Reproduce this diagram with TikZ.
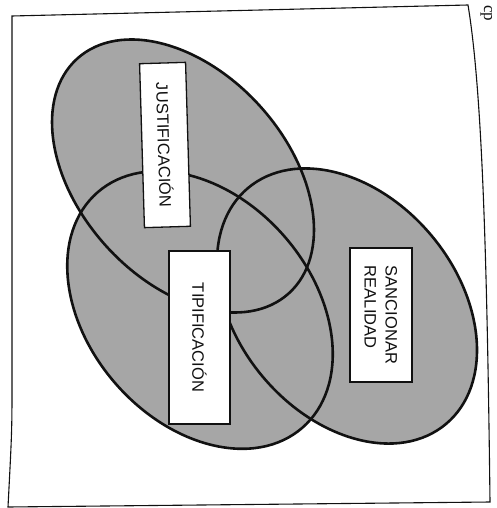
\documentclass[tikz,border=0pt]{standalone}
\usepackage{fontspec}
\setmainfont{Liberation Sans}
\newfontfamily\bookfont{Liberation Serif}
\usepackage{xcolor}
\definecolor{ink}{HTML}{111111}
\definecolor{dotgray}{HTML}{A6A6A6}
\tikzset{
  frame/.style={line width=1.1pt, draw=ink},
  venn/.style={fill=dotgray},
  rim/.style={line width=2.6pt, draw=ink},
  lab/.style={draw=ink, fill=white, line width=1.3pt, text=ink, inner sep=0pt, align=left,
    font=\fontsize{16.5}{21}\selectfont}
}

\begin{document}
\begin{tikzpicture}[x=1pt,y=-1pt]
  \useasboundingbox (0,0) rectangle (496,508);
  \draw[frame] (12,16) -- (468,5) .. controls (482,90) and (487,250) .. (490,502)
    -- (8,507) .. controls (12,430) .. (12,380) -- cycle;
  \node[font=\bookfont\fontsize{17}{17}\selectfont, text=ink, rotate=-90, anchor=base west, inner sep=0pt] (edge) at (484,5) {cp};

  % gray areas first, rims after
  \fill[venn, shift={(183,176)}, rotate=-48] (0,0) ellipse [x radius=158pt, y radius=104pt];
  \fill[venn, shift={(200,310)}, rotate=-49] (0,0) ellipse [x radius=156pt, y radius=112pt];
  \fill[venn, shift={(347,306)}, rotate=-50] (0,0) ellipse [x radius=154pt, y radius=110pt];
  \draw[rim, shift={(183,176)}, rotate=-48] (0,0) ellipse [x radius=158pt, y radius=104pt];
  \draw[rim, shift={(200,310)}, rotate=-49] (0,0) ellipse [x radius=156pt, y radius=112pt];
  \draw[rim, shift={(347,306)}, rotate=-50] (0,0) ellipse [x radius=154pt, y radius=110pt];

  \node[lab, rotate=-88.3, minimum width=164pt, minimum height=46pt] (just) at (165,145) {JUSTIFICACIÓN};
  \node[lab, rotate=-90, minimum width=173pt, minimum height=61pt] (tipi) at (199.5,337.5) {TIPIFICACIÓN};
  \node[lab, rotate=-90, minimum width=134pt, minimum height=62pt] (sanc) at (381,315) {SANCIONAR\\REALIDAD};
\end{tikzpicture}
\end{document}
